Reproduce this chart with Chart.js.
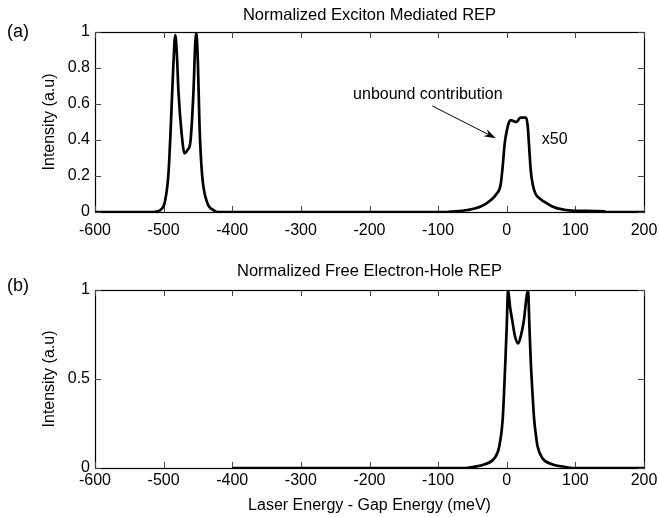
<!DOCTYPE html>
<html><head><meta charset="utf-8">
<script src="https://cdn.jsdelivr.net/npm/chart.js@4/dist/chart.umd.min.js"></script>
<style>
html,body{margin:0;padding:0;background:#fff;}
#wrap{position:relative;width:659px;height:517px;overflow:hidden;}
#c1{position:absolute;left:0;top:0;}
#c2{position:absolute;left:0;top:240px;}
</style></head><body>
<div id="wrap">
<canvas id="c1" width="659" height="240"></canvas>
<canvas id="c2" width="659" height="277"></canvas>
</div>
<script>
// ---- data ----
const xTicks = [-600, -500, -400, -300, -200, -100, 0, 100, 200];
const topYTicks = [0, 0.2, 0.4, 0.6, 0.8, 1];
const botYTicks = [0, 0.5, 1];

const topTitle = 'Normalized Exciton Mediated REP';
const botTitle = 'Normalized Free Electron-Hole REP';
const yTitle = 'Intensity (a.u)';
const xTitle = 'Laser Energy - Gap Energy (meV)';

// exciton mediated REP (bound peaks + unbound part x50)
const topX = [-600, -520, -510, -505, -498, -493, -489.5, -486, -483, -480.5, -478.4, -473.6, -469.6, -465, -461, -456.5, -454, -452.5, -450, -447.7, -444, -437, -427, -420,
  -90, -82, -57, -38, -23, -15, -9, -6, -3, 0, 3.4, 6, 10, 14, 20, 28, 30.5, 32.5, 35, 38, 42, 48, 54.5, 65, 74, 98, 142, 145, 200];
const topY = [0, 0, 0.003, 0.01, 0.06, 0.21, 0.48, 0.8, 0.983, 0.86, 0.67, 0.43, 0.326, 0.345, 0.39, 0.67, 0.93, 1.0, 0.82, 0.48, 0.21, 0.057, 0.01, 0,
  0, 0.002, 0.011, 0.03, 0.067, 0.1, 0.15, 0.25, 0.38, 0.45, 0.5, 0.51, 0.505, 0.5, 0.524, 0.525, 0.48, 0.37, 0.23, 0.15, 0.1, 0.075, 0.057, 0.033, 0.02, 0.007, 0.004, 0, 0];

// free electron-hole REP
const botX = [-400, -60, -48, -33, -18, -11, -6, -4, -2, 0, 1.9, 5, 8, 12, 16.6, 21, 25, 28.5, 31, 33, 35, 37.5, 40, 43, 45, 52, 67, 84, 95, 200];
const botY = [0, 0, 0.007, 0.02, 0.055, 0.12, 0.27, 0.42, 0.6, 0.8, 1.0, 0.9, 0.83, 0.74, 0.7, 0.75, 0.83, 0.95, 1.0, 0.8, 0.6, 0.42, 0.27, 0.17, 0.12, 0.055, 0.02, 0.007, 0, 0];

// ---- chart ----
Chart.defaults.font.family = '"Liberation Sans", Arial, sans-serif';
Chart.defaults.color = '#000';

const framePlugin = {
  id: 'frame',
  beforeDatasetsDraw(chart) {
    const {ctx, chartArea: a, scales: {x, y}} = chart;
    ctx.save();
    ctx.strokeStyle = '#000';
    ctx.lineWidth = 1.2;
    ctx.strokeRect(Math.round(a.left) + 0.5, Math.round(a.top) + 0.5, Math.round(a.right - a.left), Math.round(a.bottom - a.top));
    ctx.lineWidth = 1;
    ctx.strokeStyle = '#444';
    ctx.beginPath();
    x.ticks.forEach(t => {
      const p = Math.round(x.getPixelForValue(t.value)) + 0.5;
      ctx.moveTo(p, a.bottom); ctx.lineTo(p, a.bottom - 6);
      ctx.moveTo(p, a.top); ctx.lineTo(p, a.top + 6);
    });
    y.ticks.forEach(t => {
      const p = Math.round(y.getPixelForValue(t.value)) + 0.5;
      ctx.moveTo(a.left, p); ctx.lineTo(a.left + 6, p);
      ctx.moveTo(a.right, p); ctx.lineTo(a.right - 6, p);
    });
    ctx.stroke();
    ctx.restore();
  }
};

function notesPlugin(label, labelY, extra) {
  return {
    id: 'notes',
    afterDraw(chart) {
      const {ctx} = chart;
      ctx.save();
      ctx.fillStyle = '#000';
      ctx.font = '18px "Liberation Sans", Arial, sans-serif';
      ctx.textAlign = 'left';
      ctx.textBaseline = 'middle';
      ctx.fillText(label, 7, labelY);
      if (extra) extra(chart, ctx);
      ctx.restore();
    }
  };
}

function topExtras(chart, ctx) {
  const {x, y} = chart.scales;
  ctx.font = '16px "Liberation Sans", Arial, sans-serif';
  ctx.textBaseline = 'middle';
  ctx.textAlign = 'center';
  ctx.fillText('unbound contribution', x.getPixelForValue(-115), y.getPixelForValue(0.654));
  ctx.textAlign = 'left';
  ctx.fillText('x50', x.getPixelForValue(51), y.getPixelForValue(0.40));
  // arrow
  const x0 = x.getPixelForValue(-108.5), y0 = y.getPixelForValue(0.589);
  const x1 = x.getPixelForValue(-16), y1 = y.getPixelForValue(0.41);
  const ang = Math.atan2(y1 - y0, x1 - x0);
  ctx.strokeStyle = '#000';
  ctx.lineWidth = 1;
  ctx.beginPath(); ctx.moveTo(x0, y0); ctx.lineTo(x1 - 6 * Math.cos(ang), y1 - 6 * Math.sin(ang)); ctx.stroke();
  const L = 12, W = 4;
  ctx.beginPath();
  ctx.moveTo(x1, y1);
  ctx.lineTo(x1 - L * Math.cos(ang) + W * Math.sin(ang), y1 - L * Math.sin(ang) - W * Math.cos(ang));
  ctx.lineTo(x1 - 8 * Math.cos(ang), y1 - 8 * Math.sin(ang));
  ctx.lineTo(x1 - L * Math.cos(ang) - W * Math.sin(ang), y1 - L * Math.sin(ang) + W * Math.cos(ang));
  ctx.closePath();
  ctx.fillStyle = '#000';
  ctx.fill();
}

function makeChart(id, xs, ys, yTickVals, title, titlePad, showXTitle, xAxisH, xTickLH, label, labelY, extra) {
  const pts = xs.map((v, i) => ({x: v, y: ys[i]}));
  return new Chart(document.getElementById(id), {
    type: 'line',
    data: {datasets: [{
      data: pts,
      borderColor: '#000',
      borderWidth: 2.7,
      pointRadius: 0,
      fill: false,
      cubicInterpolationMode: 'monotone'
    }]},
    options: {
      responsive: false,
      animation: false,
      events: [],
      layout: {padding: {left: 0, right: 15, top: 0, bottom: 0}},
      plugins: {
        legend: {display: false},
        tooltip: {enabled: false},
        title: {display: true, text: title, color: '#000', fullSize: false,
          font: {size: 16.5, weight: 'normal'}, padding: titlePad}
      },
      scales: {
        x: {
          type: 'linear', min: -600, max: 200,
          afterBuildTicks: s => { s.ticks = xTicks.map(v => ({value: v})); },
          afterFit: s => { s.height = xAxisH; },
          grid: {display: false, drawTicks: false},
          border: {display: false},
          ticks: {font: {size: 16, lineHeight: xTickLH}, padding: 0, maxRotation: 0, autoSkip: false, color: '#000'},
          title: {display: showXTitle, text: xTitle, font: {size: 16}, color: '#000', padding: {top: 0, bottom: 1.5}}
        },
        y: {
          type: 'linear', min: 0, max: 1,
          afterBuildTicks: s => { s.ticks = yTickVals.map(v => ({value: v})); },
          afterFit: s => { s.width = 95; },
          grid: {display: false, drawTicks: false},
          border: {display: false},
          ticks: {font: {size: 16}, padding: 5, color: '#000', callback: v => String(v)},
          title: {display: true, text: yTitle, font: {size: 16}, color: '#000', padding: {top: 39.5, bottom: 0}}
        }
      }
    },
    plugins: [framePlugin, notesPlugin(label, labelY, extra)]
  });
}

makeChart('c1', topX, topY, topYTicks, topTitle, {top: 5.1, bottom: 7.1}, false, 28, 2.3, '(a)', 32, topExtras);
makeChart('c2', botX, botY, botYTicks, botTitle, {top: 21.1, bottom: 9.1}, true, 49, 1.625, '(b)', 46, null);
</script>
</body></html>
